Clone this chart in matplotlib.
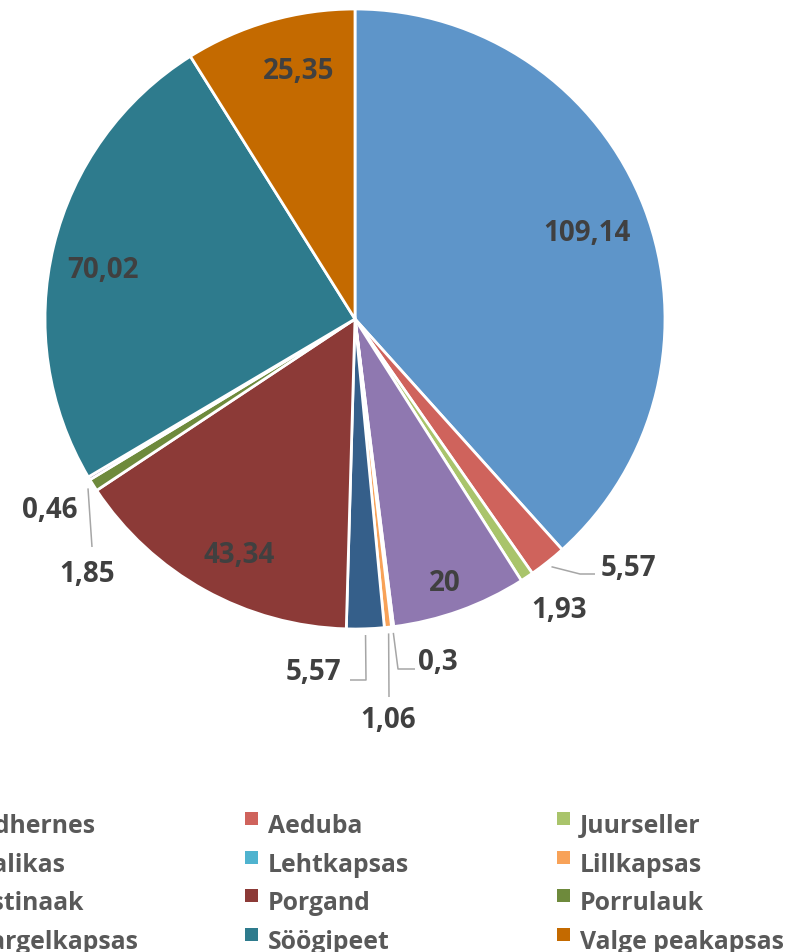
import matplotlib
matplotlib.use('Agg')
import matplotlib.pyplot as plt
from matplotlib.patches import Rectangle
import numpy as np

categories = ['Aedhernes', 'Aeduba', 'Juurseller', 'Kaalikas', 'Lehtkapsas', 'Lillkapsas',
              'Pastinaak', 'Porgand', 'Porrulauk', 'Spargelkapsas', 'Söögipeet', 'Valge peakapsas']
values = [109.14, 5.57, 1.93, 20, 0.3, 1.06, 5.57, 43.34, 1.85, 0.46, 70.02, 25.35]
value_labels = ['109,14', '5,57', '1,93', '20', '0,3', '1,06', '5,57', '43,34', '1,85', '0,46', '70,02', '25,35']
colors = ['#5E95C9', '#CF635C', '#A9C46B', '#8F78B0', '#4FB3CF', '#F8A258',
          '#355F8A', '#8C3A37', '#6E8A3C', '#5D4A7C', '#2E7B8D', '#C46A00']

W, H = 806, 953
fig = plt.figure(figsize=(W / 100, H / 100), dpi=100)
cx, cy, R = 355, 320, 310
ax = fig.add_axes([(cx - R) / W, 1 - (cy + R) / H, 2 * R / W, 2 * R / H])
wedges, _ = ax.pie(values, colors=colors, startangle=90, counterclock=False, radius=1,
                   wedgeprops=dict(edgecolor='white', linewidth=2))
ax.set_xlim(-1, 1)
ax.set_ylim(-1, 1)
ax.set_aspect('equal')
ax.axis('off')

def px2d(px, py):
    return ((px - cx) / R, (cy - py) / R)

LBL = '#404040'
FS = 20
FONT = ['Open Sans', 'DejaVu Sans']

# inside labels: (radius, angle offset in degrees)
inside = {0: (0.80, 0.0), 3: (0.89, -0.8), 7: (0.84, 2.7), 10: (0.83, 2.0), 11: (0.83, -3.3)}
for i, (r, off) in inside.items():
    w = wedges[i]
    mid = np.deg2rad((w.theta1 + w.theta2) / 2 + off)
    ax.text(r * np.cos(mid), r * np.sin(mid) - 0.008, value_labels[i], ha='center', va='center',
            fontsize=FS, fontweight='bold', color=LBL, family=FONT)

# outside labels: text center (px), leader path (px) after start on wedge
outside = {
    1: ((628, 566), [(580, 575), (595, 575)]),
    2: ((559, 608), None),
    4: ((438, 660), [(398, 670), (415, 670)]),
    5: ((388, 718), [(389, 698)]),
    6: ((313, 670), [(366, 681), (350, 681)]),
    8: ((87, 572), [(92, 548)]),
    9: ((50, 508), None),
}
for i, (tpos, path) in outside.items():
    w = wedges[i]
    mid = np.deg2rad((w.theta1 + w.theta2) / 2)
    if path is not None:
        sx, sy = 1.02 * np.cos(mid), 1.02 * np.sin(mid)
        pts = [(sx, sy)] + [px2d(*p) for p in path]
        xs, ys = zip(*pts)
        ax.plot(xs, ys, color='#A6A6A6', lw=1.1, clip_on=False, solid_capstyle='butt')
    tx, ty = px2d(*tpos)
    ax.text(tx, ty - 0.008, value_labels[i], ha='center', va='center', fontsize=FS,
            fontweight='bold', color=LBL, family=FONT, clip_on=False)

# legend (3 columns, 4 rows), partly off the left edge as in the reference
col_x = [-38, 268, 580]
row_base = 833
row_step = 38.7
for k, (cat, col) in enumerate(zip(categories, colors)):
    r, c = divmod(k, 3)
    tx = col_x[c]
    by = row_base + r * row_step
    mx = tx - 23
    my = by - 20
    fig.patches.append(Rectangle((mx / W, 1 - (my + 13) / H), 13 / W, 13 / H,
                                 transform=fig.transFigure, facecolor=col, edgecolor='none'))
    fig.text(tx / W, 1 - by / H, cat, ha='left', va='baseline', fontsize=17.8,
             fontweight='bold', color='#595959', family=FONT)

fig.savefig('out.png', dpi=100, facecolor='white')
